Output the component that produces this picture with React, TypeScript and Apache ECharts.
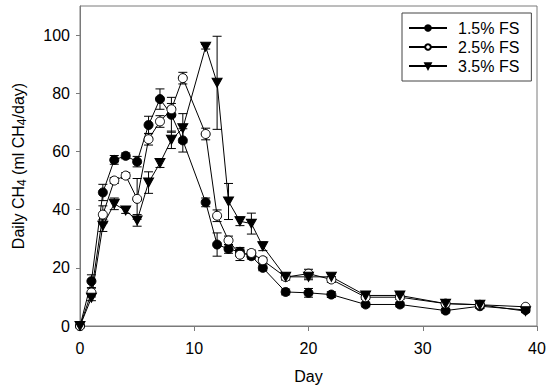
import React, { useEffect, useRef } from "react";
import * as echarts from "echarts";

const days = [0, 1, 2, 3, 4, 5, 6, 7, 8, 9, 11, 12, 13, 14, 15, 16, 18, 20, 22, 25, 28, 32, 35, 39];
const fs15 = [0, 15.4, 45.9, 57.1, 58.5, 56.5, 69.1, 78.0, 72.6, 63.8, 42.5, 28.0, 26.5, 25.5, 24.0, 20.0, 11.7, 11.4, 10.8, 7.4, 7.4, 5.3, 6.8, 5.5];
const err15 = [0, 2.2, 2.8, 1.5, 1.0, 1.8, 3.0, 3.5, 6.0, 4.0, 1.5, 4.0, 1.5, 1.5, 1.0, 1.0, 1.0, 1.5, 1.0, 0.8, 0.8, 0.8, 0.8, 0.5];
const fs25 = [0, 11.5, 38.3, 50.0, 51.7, 43.7, 64.2, 70.3, 74.5, 85.2, 66.0, 37.9, 29.4, 24.5, 25.1, 22.6, 16.8, 18.0, 16.0, 9.9, 9.9, 7.7, 7.3, 6.6];
const err25 = [0, 1.5, 3.0, 1.0, 1.0, 7.0, 2.0, 2.0, 2.0, 2.0, 2.0, 2.0, 1.5, 2.0, 1.0, 1.0, 1.0, 1.5, 1.0, 0.8, 0.8, 0.8, 0.5, 0.5];
const fs35 = [0, 9.7, 34.5, 42.0, 39.7, 36.3, 49.3, 56.0, 64.0, 68.0, 96.0, 83.6, 42.8, 36.0, 35.2, 27.4, 16.9, 16.9, 16.9, 10.5, 10.5, 7.7, 7.3, 5.1];
const err35 = [0, 1.0, 2.0, 2.0, 1.0, 2.0, 3.7, 1.5, 3.0, 5.0, 0.8, 16.0, 6.2, 1.5, 3.6, 1.5, 1.0, 1.0, 1.0, 0.8, 0.8, 0.5, 0.5, 0.5];
const seriesNames = ["1.5% FS", "2.5% FS", "3.5% FS"];
const xTicks = [0, 10, 20, 30, 40];
const yTicks = [0, 20, 40, 60, 80, 100];

const FONT = "Liberation Sans, Arial, sans-serif";
const AXIS_GRAY = "#7a7a7a";

function errSeries(vals: number[], errs: number[]) {
  return {
    type: "custom",
    silent: true,
    z: 1,
    data: days.map((d, i) => [d, vals[i], errs[i]]),
    encode: { x: 0, y: 1 },
    renderItem: (params: any, api: any) => {
      const x = api.value(0);
      const y = api.value(1);
      const e = api.value(2);
      if (!e) return null;
      const top = api.coord([x, y + e]);
      const bot = api.coord([x, y - e]);
      const hw = 4.5;
      const style = { stroke: "#000", lineWidth: 1 };
      return {
        type: "group",
        children: [
          { type: "line", shape: { x1: top[0], y1: top[1], x2: bot[0], y2: bot[1] }, style },
          { type: "line", shape: { x1: top[0] - hw, y1: top[1], x2: top[0] + hw, y2: top[1] }, style },
          { type: "line", shape: { x1: bot[0] - hw, y1: bot[1], x2: bot[0] + hw, y2: bot[1] }, style },
        ],
      };
    },
  };
}

function lineSeries(name: string, vals: number[], extra: any) {
  return {
    type: "line",
    name,
    z: 3,
    data: days.map((d, i) => [d, vals[i]]),
    lineStyle: { color: "#000", width: 1 },
    ...extra,
  };
}

export default function App() {
  const ref = useRef<HTMLDivElement>(null);
  useEffect(() => {
    if (!ref.current) return;
    const chart = echarts.init(ref.current, undefined, { renderer: "svg" });
    chart.setOption({
      animation: false,
      backgroundColor: "#fff",
      textStyle: { fontFamily: FONT },
      grid: {
        left: 78,
        right: 13,
        top: 6,
        bottom: 66,
        show: true,
        borderColor: AXIS_GRAY,
        borderWidth: 1,
        backgroundColor: "transparent",
      },
      legend: {
        data: seriesNames,
        orient: "vertical",
        left: 402,
        top: 13,
        padding: [7, 12, 7, 6],
        itemGap: 3,
        itemWidth: 38,
        itemHeight: 7,
        borderColor: "#444",
        borderWidth: 1,
        backgroundColor: "#fff",
        textStyle: { fontFamily: FONT, fontSize: 16, color: "#000", padding: [0, 0, 0, 6] },
      },
      xAxis: {
        type: "value",
        min: 0,
        max: 40,
        interval: 10,
        name: "Day",
        nameLocation: "middle",
        nameGap: 42,
        nameTextStyle: { fontFamily: FONT, fontSize: 16, color: "#000" },
        axisLine: { show: true, lineStyle: { color: AXIS_GRAY, width: 1 } },
        axisTick: { show: true, inside: false, length: 5, lineStyle: { color: AXIS_GRAY }, customValues: xTicks },
        axisLabel: { fontFamily: FONT, fontSize: 16, color: "#000", margin: 14, customValues: xTicks },
        splitLine: { show: false },
      },
      yAxis: {
        type: "value",
        min: 0,
        max: 110,
        interval: 20,
        name: "{a|Daily CH}{s|4}{a| (ml CH}{s|4}{a|/day)}",
        nameLocation: "middle",
        nameRotate: 90,
        nameGap: 52,
        nameTextStyle: {
          rich: {
            a: { fontFamily: FONT, fontSize: 16, color: "#000", lineHeight: 20 },
            s: { fontFamily: FONT, fontSize: 12, color: "#000", padding: [8, 0, 0, 0], lineHeight: 20 },
          },
        },
        axisLine: { show: true, lineStyle: { color: AXIS_GRAY, width: 1 } },
        axisTick: { show: true, inside: false, length: 4, lineStyle: { color: AXIS_GRAY }, customValues: yTicks },
        axisLabel: { fontFamily: FONT, fontSize: 16, color: "#000", margin: 10, customValues: yTicks },
        splitLine: { show: false },
      },
      series: [
        errSeries(fs15, err15),
        errSeries(fs25, err25),
        errSeries(fs35, err35),
        lineSeries(seriesNames[0], fs15, {
          symbol: "circle",
          symbolSize: 9,
          itemStyle: { color: "#000", borderColor: "#000", borderWidth: 1 },
        }),
        lineSeries(seriesNames[1], fs25, {
          symbol: "circle",
          symbolSize: 9,
          itemStyle: { color: "#fff", borderColor: "#000", borderWidth: 1 },
        }),
        lineSeries(seriesNames[2], fs35, {
          symbol: "triangle",
          symbolRotate: 180,
          symbolSize: [10, 9],
          itemStyle: { color: "#000", borderColor: "#000", borderWidth: 1 },
        }),
      ],
    });
    return () => chart.dispose();
  }, []);
  return (
    <div
      ref={ref}
      style={{ position: "fixed", left: 0, top: 0, width: 550, height: 392, background: "#fff" }}
    />
  );
}
